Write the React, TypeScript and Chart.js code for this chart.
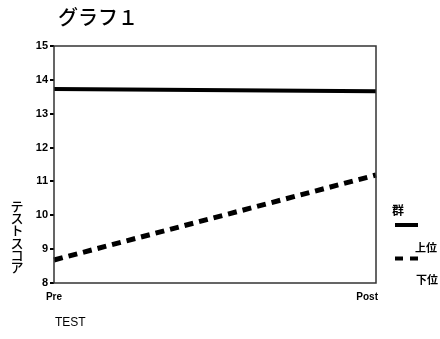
import React, { useEffect, useRef } from "react";
import { Chart, registerables } from "chart.js";

Chart.register(...registerables);

const categories = ["Pre", "Post"];
const upperValues = [13.73, 13.66];
const lowerValues = [8.68, 11.19];
const seriesNames = ["上位", "下位"];
const yMin = 8;
const yMax = 15;
const titleText = "グラフ１";
const yTitle = "テストスコア";
const xTitle = "TEST";
const legendTitle = "群";

const FONT = "'Liberation Sans', Arial, 'Noto Sans CJK JP', sans-serif";
const JFONT = "'Noto Sans CJK JP', sans-serif";

const decorPlugin = {
  id: "decor",
  afterDraw(chart: any) {
    const ctx = chart.ctx;
    const a = chart.chartArea;
    const xs = chart.scales.x;
    ctx.save();
    // frame
    ctx.strokeStyle = "#333";
    ctx.lineWidth = 1.5;
    ctx.strokeRect(a.left, a.top, a.right - a.left, a.bottom - a.top);
    // x tick labels
    ctx.fillStyle = "#000";
    ctx.font = "bold 10px " + FONT;
    ctx.textBaseline = "middle";
    categories.forEach((c, i) => {
      const px = xs.getPixelForValue(i);
      if (i === categories.length - 1) {
        ctx.textAlign = "right";
        ctx.fillText(c, px + 2, a.bottom + 14);
      } else {
        ctx.textAlign = "center";
        ctx.fillText(c, px, a.bottom + 14);
      }
    });
    // title
    ctx.font = "500 20px " + JFONT;
    ctx.textAlign = "left";
    ctx.textBaseline = "middle";
    ctx.fillText(titleText, 58, 17);
    // x title
    ctx.font = "12px " + FONT;
    ctx.fillText(xTitle, 55, 323);
    // y title vertical
    ctx.font = "500 13px " + JFONT;
    ctx.textAlign = "center";
    const chars = Array.from(yTitle);
    chars.forEach((ch, i) => {
      ctx.fillText(ch, 17, 206 + i * 12.2);
    });
    // legend
    ctx.textAlign = "left";
    ctx.font = "bold 12px " + JFONT;
    ctx.fillText(legendTitle, 392, 210);
    ctx.strokeStyle = "#000";
    ctx.lineWidth = 4;
    ctx.beginPath();
    ctx.moveTo(395, 225);
    ctx.lineTo(418, 225);
    ctx.stroke();
    ctx.font = "bold 11px " + JFONT;
    ctx.fillText(seriesNames[0], 415, 248);
    ctx.setLineDash([8, 7]);
    ctx.lineWidth = 4;
    ctx.beginPath();
    ctx.moveTo(395, 258.5);
    ctx.lineTo(418, 258.5);
    ctx.stroke();
    ctx.setLineDash([]);
    ctx.fillText(seriesNames[1], 416, 280);
    ctx.restore();
  },
};

export default function App() {
  const ref = useRef<HTMLCanvasElement>(null);
  useEffect(() => {
    if (!ref.current) return;
    const chart = new Chart(ref.current, {
      type: "line",
      data: {
        labels: categories,
        datasets: [
          {
            label: seriesNames[0],
            data: upperValues,
            borderColor: "#000",
            borderWidth: 4,
            pointRadius: 0,
            fill: false,
          },
          {
            label: seriesNames[1],
            data: lowerValues,
            borderColor: "#000",
            borderWidth: 5,
            borderDash: [9, 6],
            pointRadius: 0,
            fill: false,
          },
        ],
      },
      options: {
        animation: false,
        responsive: false,
        maintainAspectRatio: false,
        layout: { padding: { top: 46, right: 64, left: 0, bottom: 0 } },
        plugins: { legend: { display: false }, tooltip: { enabled: false }, title: { display: false } },
        scales: {
          x: {
            type: "category",
            offset: false,
            grid: { display: false, drawTicks: false },
            border: { display: false },
            ticks: { display: false },
            afterFit: (s: any) => {
              s.height = 56;
            },
          },
          y: {
            min: yMin,
            max: yMax,
            grid: {
              drawOnChartArea: false,
              drawTicks: true,
              tickLength: 4,
              color: "#000",
              lineWidth: 2,
            },
            border: { display: false },
            ticks: {
              stepSize: 1,
              color: "#000",
              padding: 2,
              font: { family: FONT, size: 11, weight: "bold" },
            },
            afterFit: (s: any) => {
              s.width = 54;
            },
          },
        },
      },
      plugins: [decorPlugin],
    });
    return () => chart.destroy();
  }, []);
  return (
    <div style={{ position: "fixed", left: 0, top: 0, width: 440, height: 339, background: "#fff" }}>
      <canvas ref={ref} width={440} height={339} style={{ width: 440, height: 339 }} />
    </div>
  );
}
